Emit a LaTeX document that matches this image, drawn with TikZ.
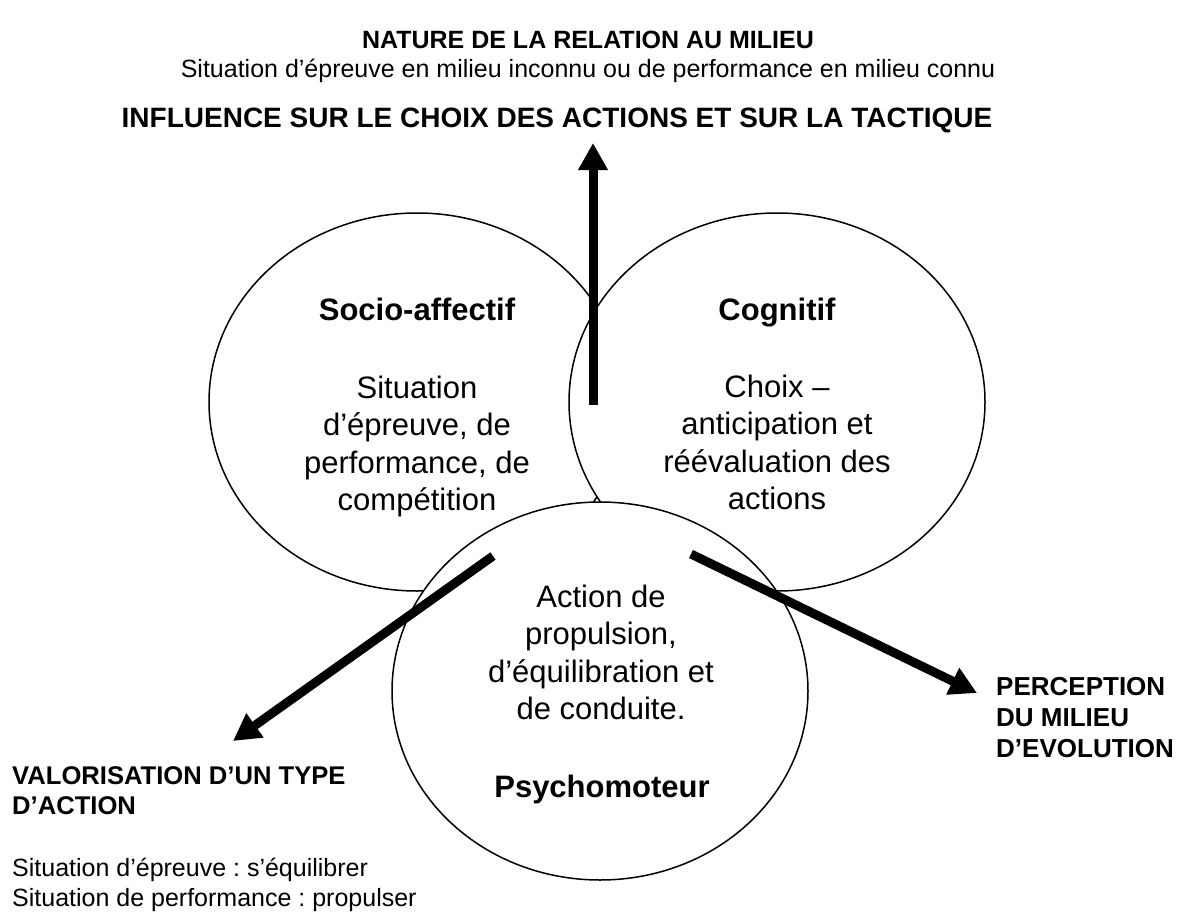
\documentclass[tikz,border=0pt]{standalone}
\usepackage{fontspec}
\setmainfont{Liberation Sans}
\usetikzlibrary{shapes.geometric,arrows.meta}
\frenchspacing
\begin{document}
\begin{tikzpicture}[x=1pt,y=-1pt,
  bubble/.style={draw, ellipse, fill=white, line width=1.5pt, minimum width=416pt, minimum height=378pt, inner sep=0pt},
  ttl/.style={font=\fontsize{31}{37}\selectfont\bfseries, inner sep=0pt, anchor=base},
  body/.style={font=\fontsize{31}{37.3}\selectfont, inner sep=0pt, align=center, anchor=north},
  lbl/.style={font=\fontsize{25.6}{30}\selectfont\bfseries, inner sep=0pt},
  txt/.style={font=\fontsize{25}{30}\selectfont, inner sep=0pt},
  bigarrow/.style={line width=9pt, -{Triangle[length=27pt,width=28pt]}}]
\useasboundingbox (0,0) rectangle (1178,918);
\fill[white] (0,0) rectangle (1178,918);
% ellipses
\node[bubble] (socio) at (417,402) {};
\node[bubble] (cogn) at (777,402) {};
\node[bubble] (psycho) at (600,691) {};
% ellipse texts
\node[ttl] (sociot) at (417,320) {Socio-affectif};
\node[body] (sociob) at (417,376) {Situation\\d’épreuve, de\\performance, de\\compétition};
\node[ttl] (cognt) at (777,320) {Cognitif};
\node[body] (cognb) at (777,375) {Choix –\\anticipation et\\réévaluation des\\actions};
\node[body] (psychob) at (601,585) {Action de\\propulsion,\\d’équilibration et\\de conduite.};
\node[ttl] (psychot) at (602,797) {Psychomoteur};
% outer texts
\node[lbl, font=\fontsize{25}{30}\selectfont\bfseries, anchor=base] (nature) at (588,48) {NATURE DE LA RELATION AU MILIEU};
\node[txt, anchor=base] (naturet) at (588,77) {Situation d’épreuve en milieu inconnu ou de performance en milieu connu};
\node[lbl, font=\fontsize{28}{30}\selectfont\bfseries, anchor=base] (influence) at (557,127) {INFLUENCE SUR LE CHOIX DES ACTIONS ET SUR LA TACTIQUE};
\node[lbl, anchor=north west, align=left] (valor) at (12,766) {VALORISATION D’UN TYPE\\D’ACTION};
\node[txt, anchor=north west, align=left] (valort) at (12,858) {Situation d’épreuve : s’équilibrer\\Situation de performance : propulser};
\node[lbl, font=\fontsize{26}{31}\selectfont\bfseries, anchor=north west, align=left] (percep) at (996,677) {PERCEPTION\\DU MILIEU\\D’EVOLUTION};
% arrows
\coordinate (a1s) at (593,405);
\coordinate (a2s) at (493,556);
\coordinate (a3s) at (691,554);
\coordinate (a1e) at (593,143);
\coordinate (a2e) at (233,741);
\coordinate (a3e) at (977,693);
\draw[bigarrow] (a1s) -- (a1e);
\draw[bigarrow] (a2s) -- (a2e);
\draw[bigarrow] (a3s) -- (a3e);
\end{tikzpicture}
\end{document}
